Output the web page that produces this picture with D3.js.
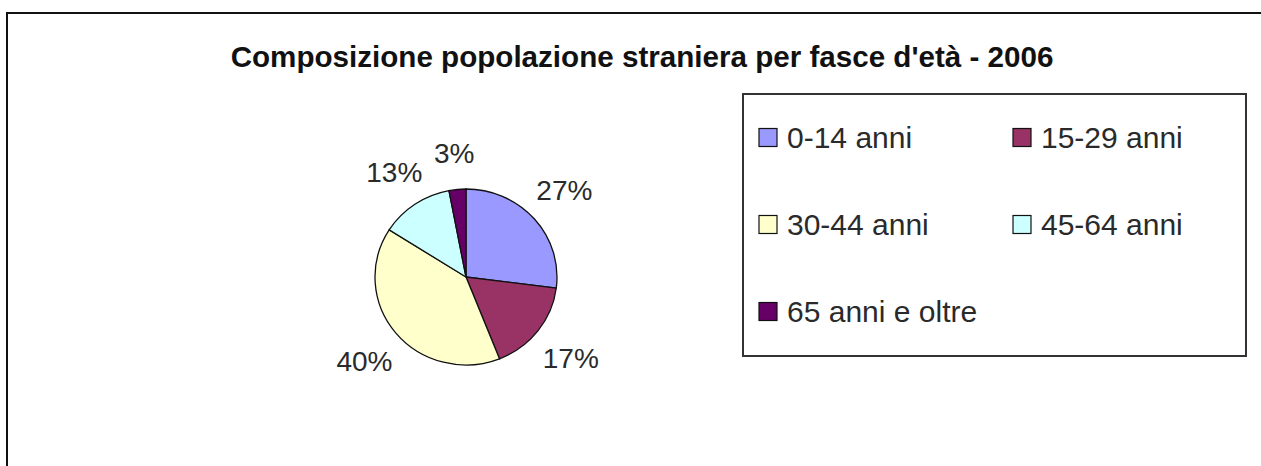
<!DOCTYPE html>
<html>
<head>
<meta charset="utf-8">
<script src="https://cdn.jsdelivr.net/npm/d3@7"></script>
<style>
  body { margin: 0; background: #fff; }
  svg { display: block; font-family: "Liberation Sans", Arial, sans-serif; }
</style>
</head>
<body>
<svg width="1261" height="466"></svg>
<script>
const title = "Composizione popolazione straniera per fasce d'età - 2006";
const categories = ["0-14 anni", "15-29 anni", "30-44 anni", "45-64 anni", "65 anni e oltre"];
const values = [27, 17, 40, 13, 3];
const colors = ["#9999ff", "#993366", "#ffffcc", "#ccffff", "#660066"];

const width = 1261;
const height = 466;
const cx = 466, cy = 277;
const radius = 91;

const svg = d3.select("svg");

//frame
svg.append("rect")
  .attr("x", 7)
  .attr("y", 13)
  .attr("width", width + 50)
  .attr("height", height + 50)
  .attr("fill", "#fff")
  .attr("stroke", "#111")
  .attr("stroke-width", 2);

//title
svg.append("text")
  .attr("x", 642)
  .attr("y", 67)
  .attr("text-anchor", "middle")
  .attr("font-size", "29.6px")
  .attr("font-weight", "bold")
  .attr("fill", "#111")
  .text(title);

//pie
const pie = d3.pie().sort(null).value(d => d);
const arcs = pie(values);
const arc = d3.arc().innerRadius(0).outerRadius(radius);

const g = svg.append("g")
  .attr("transform", `translate(${cx}, ${cy}) scale(1, 0.967)`);

g.selectAll("path")
  .data(arcs)
  .enter()
  .append("path")
  .attr("d", arc)
  .attr("fill", (d, i) => colors[i])
  .attr("stroke", "#111")
  .attr("stroke-width", 1.3)
  .attr("vector-effect", "non-scaling-stroke");

// labels, placed outside like excel does
const labelFont = 28;
const labels = svg.append("g")
  .selectAll("text")
  .data(arcs)
  .enter()
  .append("text")
  .attr("text-anchor", "middle")
  .attr("dy", "0.36em")
  .attr("font-size", labelFont + "px")
  .attr("fill", "#2a2a2a")
  .text(d => d.value + "%");

labels.each(function(d) {
  const mid = (d.startAngle + d.endAngle) / 2;
  const s = Math.sin(mid), c = Math.cos(mid);
  const w = this.getComputedTextLength() / 2;
  const h = 12;
  const ext = Math.min(w / Math.max(Math.abs(s), 1e-6), h / Math.max(Math.abs(c), 1e-6));
  const r = 113 + ext;
  d3.select(this)
    .attr("x", cx + r * s)
    .attr("y", cy - r * c);
});

//legend
const legend = { x: 743, y: 94, w: 503, h: 262 };
const colX = [16, 270];
const rowY = [43.5, 130.5, 217.5];
const sw = 18;

svg.append("rect")
  .attr("x", legend.x)
  .attr("y", legend.y)
  .attr("width", legend.w)
  .attr("height", legend.h)
  .attr("fill", "#fff")
  .attr("stroke", "#333")
  .attr("stroke-width", 2);

const items = svg.append("g")
  .selectAll("g")
  .data(categories)
  .enter()
  .append("g")
  .attr("transform", (d, i) =>
    `translate(${legend.x + colX[i % 2]}, ${legend.y + rowY[Math.floor(i / 2)]})`);

items.append("rect")
  .attr("x", 0)
  .attr("y", -sw / 2)
  .attr("width", sw)
  .attr("height", sw)
  .attr("fill", (d, i) => colors[i])
  .attr("stroke", "#111")
  .attr("stroke-width", 1.2);

items.append("text")
  .attr("x", sw + 10)
  .attr("dy", "0.36em")
  .attr("font-size", "30px")
  .attr("fill", "#2a2a2a")
  .text(d => d);
</script>
</body>
</html>
